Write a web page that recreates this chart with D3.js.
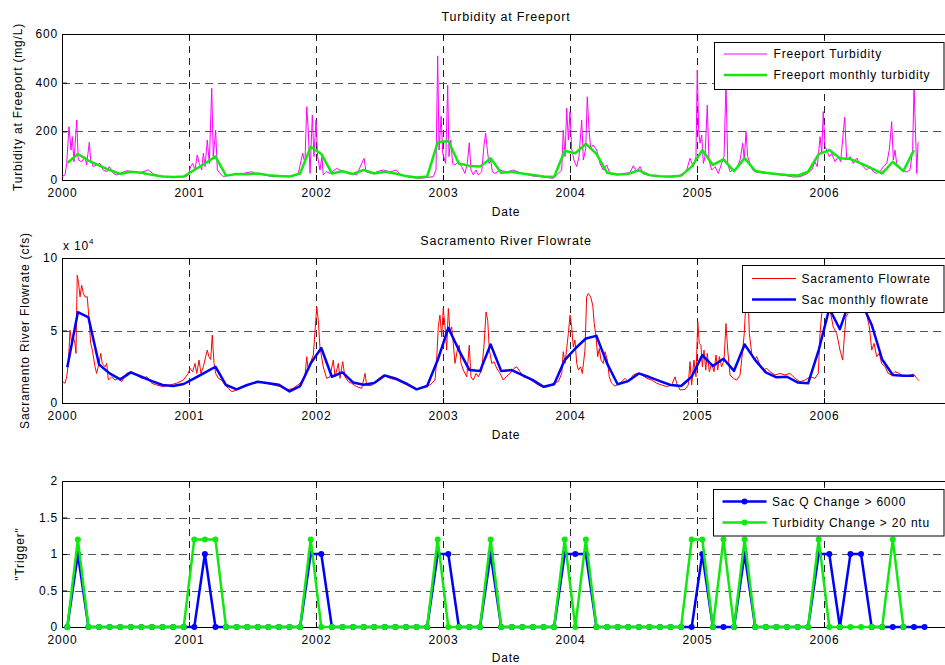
<!DOCTYPE html>
<html><head><meta charset="utf-8">
<script src="https://cdn.jsdelivr.net/npm/d3@7/dist/d3.min.js"></script>
<style>
body{margin:0;background:#fff}
svg text{font-family:"Liberation Sans",Arial,Helvetica,sans-serif;font-size:12px;fill:#000;letter-spacing:0.8px}
</style></head><body>
<svg id="c" width="945" height="665"></svg>
<script>
// ---------- data ----------
const years = [2000, 2001, 2002, 2003, 2004, 2005, 2006];
const turbTicks = [0, 200, 400, 600];
const flowTicks = [0, 5, 10];            // x 10^4 cfs
const trigTicks = [0, 0.5, 1, 1.5, 2];
const monthStart = 2000;                  // monthly series start Jan 2000 (mid-month points)

// Freeport turbidity (daily record, sampled) [decimal year, mg/L]
const turbDaily = [
[2000.000,14],[2000.024,21],[2000.037,68],[2000.055,219],[2000.071,123],[2000.081,178],[2000.094,75],[2000.116,246],
[2000.128,82],[2000.155,75],[2000.181,96],[2000.194,62],[2000.215,155],[2000.226,82],[2000.246,55],[2000.273,62],
[2000.299,68],[2000.325,41],[2000.352,34],[2000.372,55],[2000.404,27],[2000.431,21],[2000.457,27],[2000.509,38],
[2000.561,34],[2000.614,30],[2000.680,41],[2000.719,25],[2000.772,16],[2000.850,14],[2000.929,14],[2000.982,14],
[2000.994,21],[2001.013,55],[2001.029,68],[2001.047,41],[2001.065,103],[2001.081,68],[2001.100,41],[2001.113,110],
[2001.126,55],[2001.144,164],[2001.160,68],[2001.179,377],[2001.191,96],[2001.210,205],[2001.223,41],[2001.244,27],
[2001.270,14],[2001.297,18],[2001.349,23],[2001.428,27],[2001.494,34],[2001.533,25],[2001.585,21],[2001.664,14],
[2001.743,14],[2001.821,16],[2001.861,27],[2001.895,110],[2001.913,68],[2001.927,301],[2001.939,205],[2001.953,27],
[2001.971,267],[2001.984,96],[2002.000,246],[2002.013,96],[2002.031,41],[2002.047,96],[2002.057,21],[2002.084,34],
[2002.110,27],[2002.163,48],[2002.215,34],[2002.268,25],[2002.320,21],[2002.378,89],[2002.394,34],[2002.451,25],
[2002.478,34],[2002.530,41],[2002.583,34],[2002.635,41],[2002.661,21],[2002.714,14],[2002.766,10],[2002.819,7],
[2002.872,10],[2002.924,14],[2002.945,41],[2002.958,510],[2002.969,123],[2002.985,262],[2002.998,110],[2003.021,68],
[2003.037,390],[2003.047,96],[2003.061,164],[2003.076,68],[2003.094,62],[2003.120,75],[2003.147,55],[2003.173,27],
[2003.191,68],[2003.207,153],[2003.220,41],[2003.239,21],[2003.260,41],[2003.278,21],[2003.305,34],[2003.323,144],
[2003.336,192],[2003.349,123],[2003.362,68],[2003.376,82],[2003.388,34],[2003.409,27],[2003.449,41],[2003.502,32],
[2003.554,41],[2003.606,30],[2003.659,23],[2003.711,16],[2003.764,14],[2003.817,10],[2003.869,7],[2003.895,21],
[2003.935,41],[2003.947,205],[2003.961,96],[2003.974,295],[2003.987,164],[2004.000,281],[2004.013,130],[2004.031,82],
[2004.053,55],[2004.071,96],[2004.092,246],[2004.105,82],[2004.124,130],[2004.136,342],[2004.150,205],[2004.163,130],
[2004.183,144],[2004.210,123],[2004.236,68],[2004.262,41],[2004.289,62],[2004.315,25],[2004.368,21],[2004.420,27],
[2004.472,30],[2004.498,58],[2004.525,34],[2004.551,55],[2004.577,25],[2004.630,18],[2004.683,16],[2004.735,14],
[2004.787,12],[2004.840,14],[2004.892,27],[2004.919,41],[2004.945,89],[2004.971,55],[2004.992,96],[2005.002,452],
[2005.013,205],[2005.024,151],[2005.037,185],[2005.050,68],[2005.063,96],[2005.081,308],[2005.094,82],[2005.116,41],
[2005.142,55],[2005.168,27],[2005.194,68],[2005.213,96],[2005.228,400],[2005.242,68],[2005.260,34],[2005.286,41],
[2005.313,48],[2005.339,82],[2005.360,151],[2005.372,82],[2005.386,199],[2005.399,96],[2005.417,68],[2005.439,41],
[2005.457,34],[2005.496,30],[2005.549,27],[2005.601,25],[2005.654,21],[2005.706,18],[2005.758,12],[2005.811,14],
[2005.864,25],[2005.903,41],[2005.929,75],[2005.947,55],[2005.969,178],[2005.982,109],[2005.994,281],[2006.008,137],
[2006.021,123],[2006.042,96],[2006.061,109],[2006.087,75],[2006.113,96],[2006.131,75],[2006.163,258],[2006.179,82],
[2006.205,96],[2006.231,68],[2006.257,89],[2006.283,68],[2006.309,55],[2006.336,41],[2006.362,55],[2006.388,34],
[2006.415,27],[2006.441,34],[2006.467,55],[2006.494,68],[2006.514,123],[2006.533,240],[2006.546,82],[2006.559,123],
[2006.572,68],[2006.598,48],[2006.624,34],[2006.651,34],[2006.677,41],[2006.698,123],[2006.709,390],[2006.720,205],
[2006.731,27],[2006.740,150],[2006.748,155]
];

// Freeport monthly turbidity (mg/L), Jan 2000 ... Sep 2006
const turbMonthly = [
70,107,80,60,41,25,34,30,21,14,12,14,
41,68,96,18,25,24,27,20,16,14,27,137,
107,27,36,25,41,27,34,27,16,10,14,155,
160,68,58,55,89,30,34,27,21,14,12,120,
110,149,107,30,23,25,40,20,15,14,18,55,
123,62,85,36,90,37,30,25,21,18,34,106,
123,89,86,68,48,27,75,37,123
];

// Sacramento flowrate (daily record, sampled) [decimal year, cfs]
const flowDaily = [
[2000.006,14700],[2000.024,13600],[2000.037,18100],[2000.050,27300],[2000.063,50200],[2000.076,41100],[2000.089,45600],[2000.102,41000],
[2000.110,34200],[2000.120,88100],[2000.131,82400],[2000.142,73200],[2000.155,81200],[2000.168,75500],[2000.181,73200],[2000.199,73200],
[2000.215,54800],[2000.226,41000],[2000.239,36500],[2000.260,25000],[2000.273,20400],[2000.291,27300],[2000.305,34200],[2000.317,27300],
[2000.339,25000],[2000.352,27300],[2000.365,15800],[2000.391,18100],[2000.417,15800],[2000.443,17000],[2000.470,14700],[2000.509,20400],
[2000.549,21500],[2000.588,19300],[2000.628,17000],[2000.667,18100],[2000.706,13600],[2000.746,12400],[2000.798,11300],[2000.850,12400],
[2000.903,13600],[2000.955,15800],[2000.994,20400],[2001.008,23900],[2001.029,21500],[2001.047,27300],[2001.061,20400],[2001.079,29600],
[2001.094,20400],[2001.113,25000],[2001.131,31900],[2001.144,36500],[2001.157,31900],[2001.171,30000],[2001.183,46800],[2001.197,27300],
[2001.210,20400],[2001.231,17000],[2001.257,15800],[2001.283,12400],[2001.309,10100],[2001.336,7800],[2001.376,9000],[2001.415,11300],
[2001.454,12400],[2001.506,13600],[2001.559,14700],[2001.612,13600],[2001.664,12400],[2001.717,11300],[2001.769,9000],[2001.821,10100],
[2001.874,13600],[2001.913,18100],[2001.927,31900],[2001.939,22700],[2001.953,27300],[2001.979,33100],[2002.006,66300],[2002.018,57100],
[2002.031,38700],[2002.057,25000],[2002.084,17000],[2002.110,18100],[2002.136,29600],[2002.150,18100],[2002.176,27300],[2002.189,17000],
[2002.210,28500],[2002.228,18100],[2002.254,14700],[2002.281,13600],[2002.320,11300],[2002.360,10100],[2002.386,20400],[2002.399,12000],
[2002.439,12000],[2002.478,15800],[2002.530,19300],[2002.583,17000],[2002.635,15800],[2002.687,13600],[2002.740,11300],[2002.793,9400],
[2002.845,11300],[2002.898,12400],[2002.937,15800],[2002.950,29600],[2002.963,52500],[2002.976,60600],[2002.990,45600],[2003.002,65200],
[2003.016,52500],[2003.029,36500],[2003.042,65200],[2003.055,49500],[2003.068,52500],[2003.081,41100],[2003.094,27300],[2003.113,36500],
[2003.128,39900],[2003.142,27300],[2003.160,22700],[2003.187,18100],[2003.207,39900],[2003.220,18100],[2003.239,15800],[2003.260,20400],
[2003.278,18100],[2003.305,22700],[2003.323,40000],[2003.339,62800],[2003.352,57100],[2003.365,36500],[2003.384,27300],[2003.402,28500],
[2003.423,23900],[2003.449,20400],[2003.475,15800],[2003.502,18500],[2003.528,20400],[2003.559,23900],[2003.580,25000],[2003.606,21600],
[2003.632,18100],[2003.672,17000],[2003.711,14700],[2003.750,12400],[2003.790,10800],[2003.829,11300],[2003.869,13600],[2003.908,14700],
[2003.935,20400],[2003.947,35400],[2003.961,27300],[2003.974,37600],[2003.987,47900],[2004.000,60600],[2004.013,52500],[2004.026,38700],
[2004.039,43400],[2004.053,27300],[2004.066,22700],[2004.084,25000],[2004.097,20400],[2004.118,36500],[2004.131,73200],[2004.144,75500],
[2004.163,73200],[2004.179,67400],[2004.191,54800],[2004.205,45600],[2004.218,31900],[2004.231,37600],[2004.244,29600],[2004.262,27300],
[2004.276,35400],[2004.294,29600],[2004.309,18100],[2004.328,13600],[2004.354,11700],[2004.394,13600],[2004.433,17000],[2004.459,14700],
[2004.498,19300],[2004.525,20400],[2004.565,19300],[2004.604,17000],[2004.643,15800],[2004.683,13600],[2004.722,12400],[2004.761,11300],
[2004.801,12400],[2004.827,18100],[2004.840,13600],[2004.866,9000],[2004.906,9400],[2004.931,12400],[2004.945,28500],[2004.958,12400],
[2004.976,29600],[2004.992,18100],[2005.006,56000],[2005.018,41100],[2005.031,39900],[2005.042,25000],[2005.055,36500],[2005.069,22700],
[2005.081,34200],[2005.097,21600],[2005.116,27300],[2005.134,21600],[2005.150,33100],[2005.163,22700],[2005.176,32000],[2005.194,25000],
[2005.213,29600],[2005.228,54800],[2005.242,36500],[2005.260,19300],[2005.286,17000],[2005.313,15800],[2005.339,19300],[2005.360,36500],
[2005.372,47900],[2005.386,70900],[2005.399,82000],[2005.412,47900],[2005.431,34200],[2005.451,29600],[2005.470,32000],[2005.496,26200],
[2005.522,22700],[2005.549,23900],[2005.575,21600],[2005.614,19300],[2005.654,20400],[2005.693,19300],[2005.732,20400],[2005.772,17000],
[2005.811,14700],[2005.850,15800],[2005.890,18100],[2005.929,17000],[2005.955,20400],[2005.969,47900],[2005.982,61700],[2005.994,70000],
[2006.008,82000],[2006.021,89000],[2006.034,78000],[2006.047,64000],[2006.073,52500],[2006.100,47900],[2006.126,36500],[2006.147,29600],
[2006.160,45600],[2006.173,59400],[2006.191,62000],[2006.213,78000],[2006.236,86000],[2006.268,83000],[2006.299,76000],[2006.336,61000],
[2006.357,52500],[2006.376,36500],[2006.394,41100],[2006.415,32000],[2006.435,34200],[2006.454,27300],[2006.480,25000],[2006.506,20400],
[2006.533,19300],[2006.559,21600],[2006.585,20800],[2006.624,18500],[2006.663,18500],[2006.703,20000],[2006.731,17000],[2006.748,15400]
];

// Sac monthly flowrate (cfs), Jan 2000 ... Sep 2006
const flowMonthly = [
24600,62600,59000,26600,20400,16300,21100,18100,15100,12400,11700,13100,
17000,20900,25000,12400,9400,12400,14700,13600,12600,8000,11700,27300,
37900,18100,21100,14200,12600,13800,19000,17000,13600,9400,11700,29600,
51800,36500,22700,22000,40400,22000,22700,19300,15800,11200,12900,29600,
37600,44500,46300,27300,12900,15100,20400,17900,15100,12400,11700,18100,
33000,25500,30500,22200,40400,29600,21100,17700,18100,14200,13600,36500,
65200,50900,72000,70000,54000,30000,19300,18800,18800
];

// Monthly triggers, Jan 2000 ...
const sacTrigger = [
0,1,0,0,0,0,0,0,0,0,0,0,
0,1,0,0,0,0,0,0,0,0,0,1,
1,0,0,0,0,0,0,0,0,0,0,1,
1,0,0,0,1,0,0,0,0,0,0,1,
1,1,0,0,0,0,0,0,0,0,0,0,
1,0,0,0,1,0,0,0,0,0,0,1,
1,0,1,1,0,0,0,0,0,0
];
const turbTrigger = [
0,1.2,0,0,0,0,0,0,0,0,0,0,
1.2,1.2,1.2,0,0,0,0,0,0,0,0,1.2,
0,0,0,0,0,0,0,0,0,0,0,1.2,
0,0,0,0,1.2,0,0,0,0,0,0,1.2,
0,1.2,0,0,0,0,0,0,0,0,0,1.2,
1.2,0,1.2,0,1.2,0,0,0,0,0,0,1.2,
0,0,0,0,0,0,1.2,0
];

// ---------- drawing ----------
const svg = d3.select("#c");
const x = d3.scaleLinear().domain([2000, 2007]).range([62, 951]);
const monthly = arr => arr.map((v, i) => [monthStart + (i + 0.5) / 12, v]);

const C = {mag:"#ff00ff", green:"#10e810", red:"#ff0000", blue:"#0000ff"};

function panel(p) {
  const y = d3.scaleLinear().domain(p.domain).range([p.bottom, p.top]);
  const g = svg.append("g");
  // grid
  g.selectAll(".vg").data(years.filter(d => d > 2000)).join("line")
    .attr("x1", d => Math.round(x(d)) + 0.5).attr("x2", d => Math.round(x(d)) + 0.5)
    .attr("y1", p.top).attr("y2", p.bottom)
    .attr("stroke", "#222").attr("stroke-width", 1).attr("stroke-dasharray", "7,5");
  g.selectAll(".hg").data(p.ticks.filter(d => d > p.domain[0] && d < p.domain[1])).join("line")
    .attr("x1", 62).attr("x2", 951)
    .attr("y1", d => Math.round(y(d)) + 0.5).attr("y2", d => Math.round(y(d)) + 0.5)
    .attr("stroke", "#555").attr("stroke-width", 1).attr("stroke-dasharray", "8,5");
  // axes
  const ax = g.append("g").attr("transform", `translate(0,${p.bottom})`)
    .call(d3.axisBottom(x).tickValues(years).tickFormat(d3.format("d")).tickSize(-5).tickPadding(8.5));
  ax.select(".domain").remove();
  const axT = g.append("g").attr("transform", `translate(0,${p.top})`)
    .call(d3.axisTop(x).tickValues(years).tickFormat("").tickSize(-5));
  axT.select(".domain").remove();
  const ay = g.append("g").attr("transform", `translate(62,0)`)
    .call(d3.axisLeft(y).tickValues(p.ticks).tickFormat(p.fmt).tickSize(-5).tickPadding(4));
  ay.select(".domain").remove();
  ay.selectAll(".tick text").attr("dy", "0.3em");
  g.selectAll(".tick line").attr("stroke", "#000");
  // frame
  g.append("rect").attr("x", 62.5).attr("y", p.top + 0.5)
    .attr("width", 888).attr("height", p.bottom - p.top)
    .attr("fill", "none").attr("stroke", "#000").attr("stroke-width", 1);
  // clip
  const id = "clip" + p.name;
  svg.append("clipPath").attr("id", id).append("rect")
    .attr("x", 62).attr("y", p.top).attr("width", 889).attr("height", p.bottom - p.top);
  // labels
  svg.append("text").attr("x", 506).attr("y", p.dateY).attr("text-anchor", "middle").text("Date");
  svg.append("text").attr("text-anchor", "middle")
    .attr("transform", `translate(${p.ylabX},${(p.top + p.bottom) / 2}) rotate(-90)`).text(p.ylab);
  if (p.title) svg.append("text").attr("x", 506).attr("y", p.titleY).attr("text-anchor", "middle")
    .style("font-size", "12.5px").text(p.title);
  return {y, g, clip: `url(#${id})`};
}

function legend(box, items) {
  const g = svg.append("g");
  g.append("rect").attr("x", box.x).attr("y", box.y).attr("width", box.w).attr("height", box.h)
    .attr("fill", "#fff").attr("stroke", "#000").attr("stroke-width", 1);
  items.forEach((it, k) => {
    const ly = box.rows[k];
    g.append("line").attr("x1", box.lx0).attr("x2", box.lx1).attr("y1", ly).attr("y2", ly)
      .attr("stroke", it.color).attr("stroke-width", it.width);
    if (it.marker) g.append("circle").attr("cx", (box.lx0 + box.lx1) / 2).attr("cy", ly).attr("r", 3).attr("fill", it.color);
    g.append("text").attr("x", box.tx).attr("y", ly + 4.3).text(it.label);
  });
}

// Panel 1: turbidity
const p1 = panel({name:"a", top:34, bottom:180, domain:[0,600], ticks:turbTicks, fmt:d3.format("d"),
  dateY:216, ylab:"Turbidity at Freeport (mg/L)", ylabX:22, title:"Turbidity at Freeport", titleY:21});
const line1 = d3.line().x(d => x(d[0])).y(d => p1.y(d[1]));
svg.append("path").datum(turbDaily).attr("d", line1).attr("clip-path", p1.clip)
  .attr("fill", "none").attr("stroke", C.mag).attr("stroke-width", 1);
svg.append("path").datum(monthly(turbMonthly)).attr("d", line1).attr("clip-path", p1.clip)
  .attr("fill", "none").attr("stroke", C.green).attr("stroke-width", 2.5).attr("stroke-linejoin", "round");
legend({x:714.5, y:42.5, w:229.5, h:47, lx0:724, lx1:767, tx:773.5, rows:[54, 75]},
  [{label:"Freeport Turbidity", color:C.mag, width:1}, {label:"Freeport monthly turbidity", color:C.green, width:2.5}]);

// Panel 2: flow
const p2 = panel({name:"b", top:258, bottom:403, domain:[0,10], ticks:flowTicks, fmt:d3.format("d"),
  dateY:439, ylab:"Sacramento River Flowrate (cfs)", ylabX:29, title:"Sacramento River Flowrate", titleY:245});
const line2 = d3.line().x(d => x(d[0])).y(d => p2.y(d[1] / 1e4));
svg.append("path").datum(flowDaily).attr("d", line2).attr("clip-path", p2.clip)
  .attr("fill", "none").attr("stroke", C.red).attr("stroke-width", 1);
svg.append("path").datum(monthly(flowMonthly)).attr("d", line2).attr("clip-path", p2.clip)
  .attr("fill", "none").attr("stroke", C.blue).attr("stroke-width", 2.5).attr("stroke-linejoin", "round");
const exp = svg.append("text").attr("x", 63).attr("y", 250);
exp.append("tspan").text("x 10");
exp.append("tspan").attr("dy", -6).style("font-size", "8px").text("4");
legend({x:742.5, y:265.5, w:201.5, h:47, lx0:752, lx1:796, tx:801.5, rows:[278.5, 299.5]},
  [{label:"Sacramento Flowrate", color:C.red, width:1}, {label:"Sac monthly flowrate", color:C.blue, width:2.5}]);

// Panel 3: triggers
const p3 = panel({name:"c", top:481, bottom:627, domain:[0,2], ticks:trigTicks, fmt:d => String(d),
  dateY:661.5, ylab:"\"Trigger\"", ylabX:24});
const line3 = d3.line().x(d => x(d[0])).y(d => p3.y(d[1]));
[[sacTrigger, C.blue], [turbTrigger, C.green]].forEach(([arr, col]) => {
  const pts = monthly(arr);
  svg.append("path").datum(pts).attr("d", line3).attr("fill", "none")
    .attr("stroke", col).attr("stroke-width", 2.5).attr("stroke-linejoin", "round");
  svg.append("g").selectAll("circle").data(pts).join("circle")
    .attr("cx", d => x(d[0])).attr("cy", d => p3.y(d[1])).attr("r", 3).attr("fill", col);
});
legend({x:713.5, y:489.5, w:230.5, h:46.5, lx0:722.5, lx1:766.5, tx:772, rows:[501.5, 522.5]},
  [{label:"Sac Q Change > 6000", color:C.blue, width:2.5, marker:true},
   {label:"Turbidity Change > 20 ntu", color:C.green, width:2.5, marker:true}]);
</script>
</body></html>
